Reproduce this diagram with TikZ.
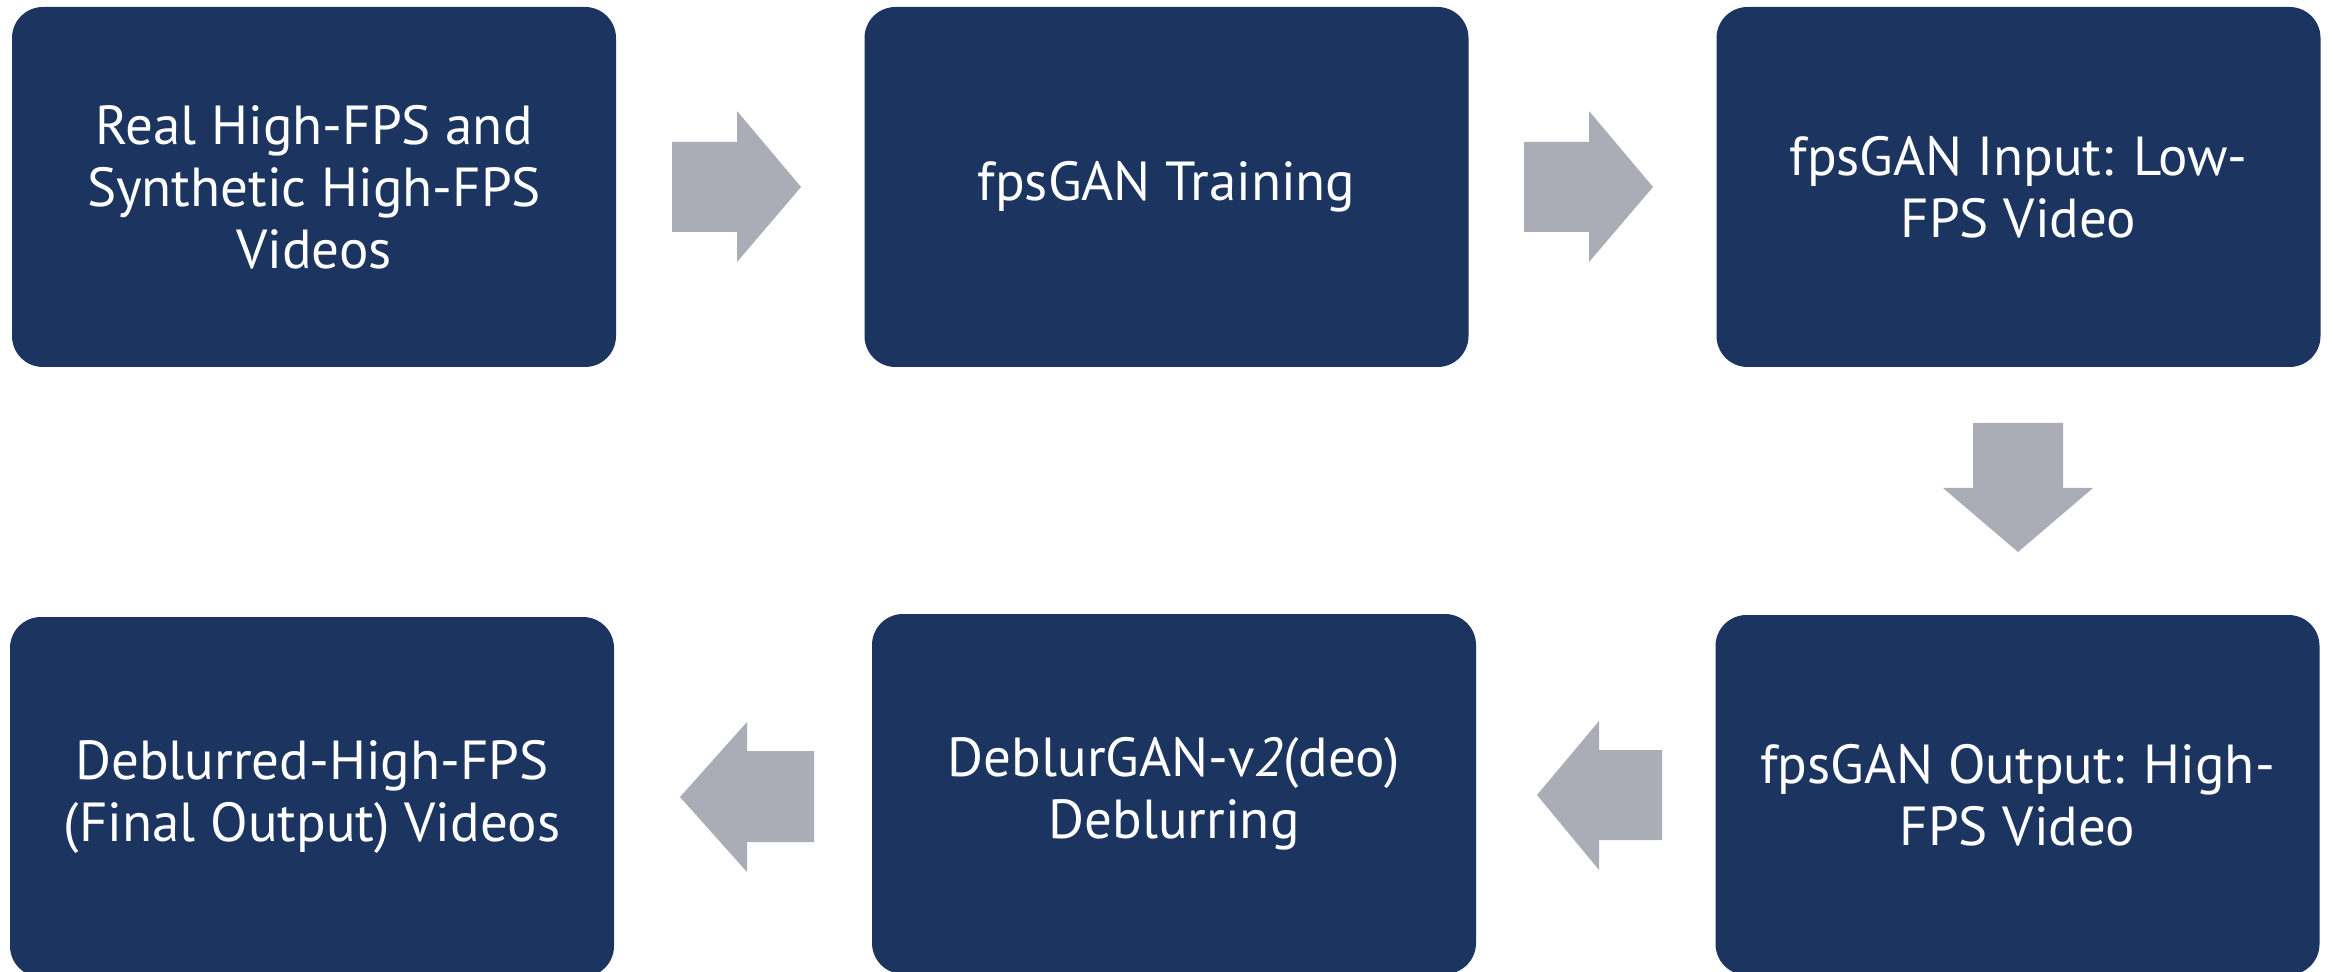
\documentclass[tikz,border=0pt]{standalone}
\usepackage{fontspec}
\setmainfont{PT Sans}
\definecolor{boxblue}{RGB}{28,52,96}
\definecolor{arrowgray}{RGB}{170,173,182}
\tikzset{
  stage/.style={rectangle, rounded corners=15.5pt, fill=boxblue, text=white,
    minimum width=302pt, minimum height=180pt, inner sep=0pt, align=center,
    font=\fontsize{27.5}{31}\selectfont},
  blockarrow/.style={fill=arrowgray, draw=none}
}
\begin{document}
\begin{tikzpicture}[x=0.5pt,y=-0.5pt]
\useasboundingbox (0,0) rectangle (2333,972);
\fill[white] (0,0) rectangle (2333,972);
\node[stage] (real) at (314,187) {Real High-FPS and\\Synthetic High-FPS\\Videos};
\node[stage] (train) at (1166.5,187) {fpsGAN Training};
\node[stage] (input) at (2018.5,187) {fpsGAN Input: Low-\\FPS Video};
\node[stage] (output) at (2017.5,795) {fpsGAN Output: High-\\FPS Video};
\node[stage] (deblur) at (1174,794) {DeblurGAN-v\textit{2}(deo)\\Deblurring};
\node[stage] (final) at (312,797) {Deblurred-High-FPS\\(Final Output) Videos};
% right arrows
\fill[blockarrow] (672,142) -- (737,142) -- (737,111) -- (801,187) -- (737,262) -- (737,232) -- (672,232) -- cycle;
\fill[blockarrow] (1524,142) -- (1589,142) -- (1589,111) -- (1653,187) -- (1589,262) -- (1589,232) -- (1524,232) -- cycle;
% down arrow
\fill[blockarrow] (1973,423) -- (2063,423) -- (2063,488) -- (2093,488) -- (2018,552) -- (1943,488) -- (1973,488) -- cycle;
% left arrows
\fill[blockarrow] (1662,750) -- (1599,750) -- (1599,721) -- (1537,795) -- (1599,870) -- (1599,840) -- (1662,840) -- cycle;
\fill[blockarrow] (814,751) -- (747,751) -- (747,722) -- (680,797) -- (747,872) -- (747,842) -- (814,842) -- cycle;
\end{tikzpicture}
\end{document}
